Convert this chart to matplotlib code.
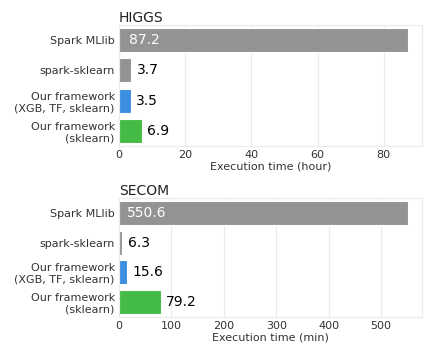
import matplotlib
matplotlib.use("Agg")
import matplotlib.pyplot as plt

categories = ["Spark MLlib", "spark-sklearn", "Our framework\n(XGB, TF, sklearn)", "Our framework\n(sklearn)"]
higgs_hours = [87.2, 3.7, 3.5, 6.9]
secom_min = [550.6, 6.3, 15.6, 79.2]
colors = ["#939393", "#939393", "#3b8ee0", "#44bb44"]

plt.rcParams['font.family'] = ['DejaVu Sans']
fig = plt.figure(figsize=(4.36, 3.57), dpi=100)

def draw(ax, vals, title, xlabel, inside_pad):
    y = list(range(len(categories)))
    ax.barh(y, vals, height=0.8, color=colors, edgecolor="white", linewidth=0.8, zorder=2)
    ax.set_ylim(len(categories) - 0.5, -0.5)
    ax.set_xlim(0, max(vals) * 1.05)
    ax.set_yticks(y)
    ax.set_yticklabels(categories, fontsize=8, color="#333333", linespacing=1.2)
    ax.tick_params(axis='x', labelsize=8, colors="#333333", length=0, pad=3)
    ax.tick_params(axis='y', length=0, pad=3)
    ax.grid(axis='x', color="#ebebeb", linewidth=0.8, zorder=0)
    ax.set_axisbelow(True)
    for s in ax.spines.values():
        s.set_color("#ebebeb")
        s.set_linewidth(0.8)
    ax.set_title(title, loc="left", fontsize=10, pad=2, color="#222222")
    ax.set_xlabel(xlabel, fontsize=8, labelpad=1, color="#333333")
    for i, v in enumerate(vals):
        if i == 0:
            ax.annotate(f"{v}", (0, i), xytext=(inside_pad, 0), textcoords="offset points",
                        va="center", ha="left", fontsize=10, color="white")
        else:
            ax.annotate(f"{v}", (v, i), xytext=(4, 0), textcoords="offset points",
                        va="center", ha="left", fontsize=10, color="black")

ax1 = fig.add_axes([119/436, 1 - 146/357, 303/436, 121/357])
ax2 = fig.add_axes([119/436, 1 - 317/357, 303/436, 119/357])
draw(ax1, higgs_hours, "HIGGS", "Execution time (hour)", 7.5)
ax1.set_xticks([0, 20, 40, 60, 80])
draw(ax2, secom_min, "SECOM", "Execution time (min)", 5.5)
ax2.set_xticks([0, 100, 200, 300, 400, 500])
fig.savefig("out.png", dpi=100)
